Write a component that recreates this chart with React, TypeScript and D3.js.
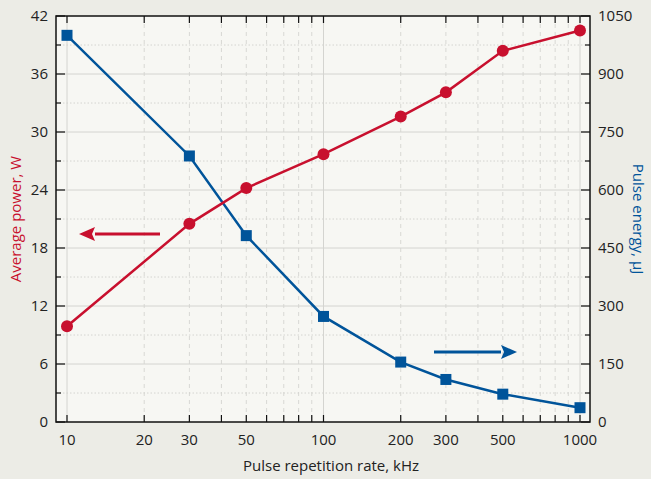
import React from "react";
import * as d3 from "d3";

const rates = [10, 30, 50, 100, 200, 300, 500, 1000];
const power = [9.9, 20.5, 24.2, 27.7, 31.6, 34.1, 38.4, 40.5];
const energy = [1000, 688, 482, 273, 155, 110, 72, 37];
const xTickLabels = [10, 20, 30, 50, 100, 200, 300, 500, 1000];
const leftTicks = [0, 6, 12, 18, 24, 30, 36, 42];
const rightTicks = [0, 150, 300, 450, 600, 750, 900, 1050];

const W = 651, H = 479;
const L = 56, R = 590, T = 16, B = 422;
const RED = "#c8102e";
const BLUE = "#00549a";
const FONT = "'Open Sans', 'Noto Sans', sans-serif";

export default function App() {
  const x = d3.scaleLog().domain([10, 1000]).range([67, 580]);
  const yL = d3.scaleLinear().domain([0, 42]).range([B, T]);
  const yR = d3.scaleLinear().domain([0, 1050]).range([B, T]);

  const allX: number[] = [];
  for (const dec of [10, 100]) for (let k = 1; k < 10; k++) allX.push(dec * k);
  allX.push(1000);
  const majorX = [10, 100, 1000];
  const midY = d3.range(3, 42, 6);

  const linePow = d3.line<number>().x((_, i) => x(rates[i])).y((d) => yL(d));
  const lineEn = d3.line<number>().x((_, i) => x(rates[i])).y((d) => yR(d));

  const arrow = (x1: number, x2: number, y: number, c: string) => {
    const dir = x2 > x1 ? 1 : -1;
    const head = 16;
    return (
      <g>
        <line x1={x1} y1={y} x2={x2 - dir * head} y2={y} stroke={c} strokeWidth={3} />
        <path d={`M${x2},${y} L${x2 - dir * head},${y - 7} L${x2 - dir * head + dir * 3},${y} L${x2 - dir * head},${y + 7} Z`} fill={c} />
      </g>
    );
  };

  return (
    <svg width={W} height={H} style={{ position: "absolute", left: 0, top: 0, fontFamily: FONT }}>
      <rect x={0} y={0} width={W} height={H} fill="#ecece6" />
      <rect x={L} y={T} width={R - L} height={B - T} fill="#f7f7f3" />
      {allX.map((v) => (
        <line key={"gx" + v} x1={x(v)} x2={x(v)} y1={T} y2={B}
          stroke={majorX.includes(v) ? "#d4d4d0" : "#d8d8d4"} strokeWidth={1}
          strokeDasharray={majorX.includes(v) ? undefined : "4,4"} />
      ))}
      {leftTicks.slice(1, -1).map((v) => (
        <line key={"gy" + v} x1={L} x2={R} y1={yL(v)} y2={yL(v)} stroke="#d4d4d0" strokeWidth={1} />
      ))}
      {midY.map((v) => (
        <line key={"gm" + v} x1={L} x2={R} y1={yL(v)} y2={yL(v)} stroke="#d4d4d0" strokeWidth={1} strokeDasharray="1.5,2" />
      ))}
      <rect x={L} y={T} width={R - L} height={B - T} fill="none" stroke="#111" strokeWidth={1.5} />
      {allX.map((v) => (
        <g key={"tx" + v}>
          <line x1={x(v)} x2={x(v)} y1={B} y2={B - 7} stroke="#111" strokeWidth={1.2} />
          <line x1={x(v)} x2={x(v)} y1={T} y2={T + 7} stroke="#111" strokeWidth={1.2} />
        </g>
      ))}
      {leftTicks.map((v) => (
        <g key={"ty" + v}>
          <line x1={L} x2={L + 9} y1={yL(v)} y2={yL(v)} stroke="#111" strokeWidth={1.2} />
          <line x1={R} x2={R - 9} y1={yL(v)} y2={yL(v)} stroke="#111" strokeWidth={1.2} />
        </g>
      ))}
      {midY.map((v) => (
        <g key={"tym" + v}>
          <line x1={L} x2={L + 5} y1={yL(v)} y2={yL(v)} stroke="#111" strokeWidth={1.2} />
          <line x1={R} x2={R - 5} y1={yL(v)} y2={yL(v)} stroke="#111" strokeWidth={1.2} />
        </g>
      ))}
      {xTickLabels.map((v) => (
        <text key={"lx" + v} x={x(v)} y={445} textAnchor="middle" fontSize={15} fill="#222">{v}</text>
      ))}
      {leftTicks.map((v) => (
        <text key={"ll" + v} x={48} y={yL(v) + 5} textAnchor="end" fontSize={15} fill="#222">{v}</text>
      ))}
      {rightTicks.map((v) => (
        <text key={"lr" + v} x={598} y={yR(v) + 5} textAnchor="start" fontSize={15} fill="#222">{v}</text>
      ))}
      <text x={331} y={471} textAnchor="middle" fontSize={15} fill="#222">Pulse repetition rate, kHz</text>
      <text transform={`translate(21,${(T + B) / 2}) rotate(-90)`} textAnchor="middle" fontSize={15} fill={RED}>Average power, W</text>
      <text transform={`translate(633,${(T + B) / 2}) rotate(90)`} textAnchor="middle" fontSize={15} fill={BLUE}>Pulse energy, µJ</text>
      <path d={lineEn(energy) || ""} fill="none" stroke={BLUE} strokeWidth={2.5} />
      {energy.map((v, i) => (
        <rect key={"e" + i} x={x(rates[i]) - 5.5} y={yR(v) - 5.5} width={11} height={11} fill={BLUE} />
      ))}
      <path d={linePow(power) || ""} fill="none" stroke={RED} strokeWidth={2.5} />
      {power.map((v, i) => (
        <circle key={"p" + i} cx={x(rates[i])} cy={yL(v)} r={6} fill={RED} />
      ))}
      {arrow(160, 79, 234, RED)}
      {arrow(434, 517, 352, BLUE)}
    </svg>
  );
}
